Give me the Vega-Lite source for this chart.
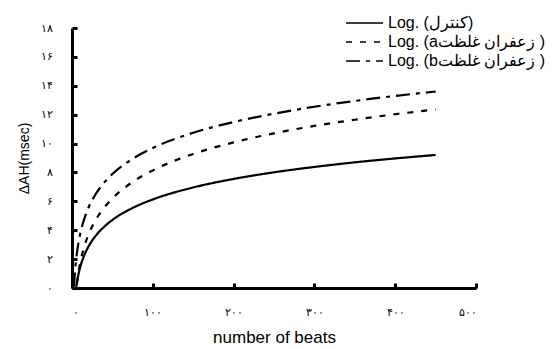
{
  "$schema": "https://vega.github.io/schema/vega-lite/v6.json",
  "autosize": "none",
  "width": 404,
  "height": 260,
  "padding": {"left": 72, "top": 28, "right": 83, "bottom": 61},
  "background": "white",
  "config": {
    "font": "Liberation Sans",
    "view": {"stroke": null},
    "axis": {
      "grid": false,
      "domainColor": "black",
      "domainWidth": 3,
      "labelColor": "black",
      "titleColor": "black",
      "labelFontSize": 11,
      "titleFontWeight": "normal",
      "titleFontSize": 16
    },
    "legend": {
      "labelFontSize": 16,
      "labelLimit": 300,
      "rowPadding": 0
    }
  },
  "data": {
    "values": [
      {"beats": 5, "dAH": 0.0, "series": "Log. (کنترل)"},
      {"beats": 7, "dAH": 0.68, "series": "Log. (کنترل)"},
      {"beats": 10, "dAH": 1.41, "series": "Log. (کنترل)"},
      {"beats": 15, "dAH": 2.24, "series": "Log. (کنترل)"},
      {"beats": 20, "dAH": 2.83, "series": "Log. (کنترل)"},
      {"beats": 30, "dAH": 3.66, "series": "Log. (کنترل)"},
      {"beats": 40, "dAH": 4.25, "series": "Log. (کنترل)"},
      {"beats": 50, "dAH": 4.71, "series": "Log. (کنترل)"},
      {"beats": 75, "dAH": 5.54, "series": "Log. (کنترل)"},
      {"beats": 100, "dAH": 6.13, "series": "Log. (کنترل)"},
      {"beats": 150, "dAH": 6.96, "series": "Log. (کنترل)"},
      {"beats": 200, "dAH": 7.55, "series": "Log. (کنترل)"},
      {"beats": 250, "dAH": 8.01, "series": "Log. (کنترل)"},
      {"beats": 300, "dAH": 8.38, "series": "Log. (کنترل)"},
      {"beats": 350, "dAH": 8.70, "series": "Log. (کنترل)"},
      {"beats": 400, "dAH": 8.97, "series": "Log. (کنترل)"},
      {"beats": 450, "dAH": 9.21, "series": "Log. (کنترل)"},
      {"beats": 6, "dAH": 0.27, "series": "Log. (aزعفران غلظت )"},
      {"beats": 8, "dAH": 1.07, "series": "Log. (aزعفران غلظت )"},
      {"beats": 10, "dAH": 1.70, "series": "Log. (aزعفران غلظت )"},
      {"beats": 15, "dAH": 2.83, "series": "Log. (aزعفران غلظت )"},
      {"beats": 20, "dAH": 3.64, "series": "Log. (aزعفران غلظت )"},
      {"beats": 30, "dAH": 4.77, "series": "Log. (aزعفران غلظت )"},
      {"beats": 40, "dAH": 5.58, "series": "Log. (aزعفران غلظت )"},
      {"beats": 50, "dAH": 6.20, "series": "Log. (aزعفران غلظت )"},
      {"beats": 75, "dAH": 7.34, "series": "Log. (aزعفران غلظت )"},
      {"beats": 100, "dAH": 8.14, "series": "Log. (aزعفران غلظت )"},
      {"beats": 150, "dAH": 9.28, "series": "Log. (aزعفران غلظت )"},
      {"beats": 200, "dAH": 10.08, "series": "Log. (aزعفران غلظت )"},
      {"beats": 250, "dAH": 10.71, "series": "Log. (aزعفران غلظت )"},
      {"beats": 300, "dAH": 11.22, "series": "Log. (aزعفران غلظت )"},
      {"beats": 350, "dAH": 11.65, "series": "Log. (aزعفران غلظت )"},
      {"beats": 400, "dAH": 12.03, "series": "Log. (aزعفران غلظت )"},
      {"beats": 450, "dAH": 12.36, "series": "Log. (aزعفران غلظت )"},
      {"beats": 2.5, "dAH": 0.10, "series": "Log. (bزعفران غلظت )"},
      {"beats": 3, "dAH": 0.58, "series": "Log. (bزعفران غلظت )"},
      {"beats": 4, "dAH": 1.32, "series": "Log. (bزعفران غلظت )"},
      {"beats": 5, "dAH": 1.90, "series": "Log. (bزعفران غلظت )"},
      {"beats": 7, "dAH": 2.78, "series": "Log. (bزعفران غلظت )"},
      {"beats": 10, "dAH": 3.71, "series": "Log. (bزعفران غلظت )"},
      {"beats": 15, "dAH": 4.76, "series": "Log. (bزعفران غلظت )"},
      {"beats": 20, "dAH": 5.51, "series": "Log. (bزعفران غلظت )"},
      {"beats": 30, "dAH": 6.56, "series": "Log. (bزعفران غلظت )"},
      {"beats": 40, "dAH": 7.31, "series": "Log. (bزعفران غلظت )"},
      {"beats": 50, "dAH": 7.89, "series": "Log. (bزعفران غلظت )"},
      {"beats": 75, "dAH": 8.94, "series": "Log. (bزعفران غلظت )"},
      {"beats": 100, "dAH": 9.69, "series": "Log. (bزعفران غلظت )"},
      {"beats": 150, "dAH": 10.75, "series": "Log. (bزعفران غلظت )"},
      {"beats": 200, "dAH": 11.49, "series": "Log. (bزعفران غلظت )"},
      {"beats": 250, "dAH": 12.07, "series": "Log. (bزعفران غلظت )"},
      {"beats": 300, "dAH": 12.55, "series": "Log. (bزعفران غلظت )"},
      {"beats": 350, "dAH": 12.95, "series": "Log. (bزعفران غلظت )"},
      {"beats": 400, "dAH": 13.30, "series": "Log. (bزعفران غلظت )"},
      {"beats": 450, "dAH": 13.60, "series": "Log. (bزعفران غلظت )"}
    ]
  },
  "mark": {"type": "line", "color": "black", "strokeWidth": 2.2, "interpolate": "monotone"},
  "encoding": {
    "x": {
      "field": "beats",
      "type": "quantitative",
      "scale": {"domain": [0, 500], "nice": false},
      "axis": {
        "title": "number of beats",
        "titleFontSize": 17,
        "values": [0, 100, 200, 300, 400, 500],
        "labelExpr": "['۰','۱۰۰','۲۰۰','۳۰۰','۴۰۰','۵۰۰'][datum.value/100]",
        "ticks": true,
        "tickColor": "black",
        "tickSize": -5,
        "tickWidth": 3,
        "labelPadding": 23,
        "titlePadding": 12
      }
    },
    "y": {
      "field": "dAH",
      "type": "quantitative",
      "scale": {"domain": [0, 18], "nice": false},
      "axis": {
        "title": "ΔAH(msec)",
        "titleFontSize": 14,
        "values": [0, 2, 4, 6, 8, 10, 12, 14, 16, 18],
        "labelExpr": "['۰','۲','۴','۶','۸','۱۰','۱۲','۱۴','۱۶','۱۸'][datum.value/2]",
        "ticks": true,
        "tickColor": "black",
        "tickSize": -5,
        "tickWidth": 3,
        "labelPadding": 25,
        "titlePadding": 9
      }
    },
    "strokeDash": {
      "field": "series",
      "type": "nominal",
      "scale": {
        "domain": ["Log. (کنترل)", "Log. (aزعفران غلظت )", "Log. (bزعفران غلظت )"],
        "range": [[1, 0], [6, 8], [14, 6, 4, 6]]
      },
      "legend": {
        "title": null,
        "orient": "none",
        "legendX": 281.5,
        "legendY": -16,
        "symbolType": "M-1.85,0H1.85",
        "symbolSize": 400,
        "labelOffset": 12.5
      }
    }
  }
}
